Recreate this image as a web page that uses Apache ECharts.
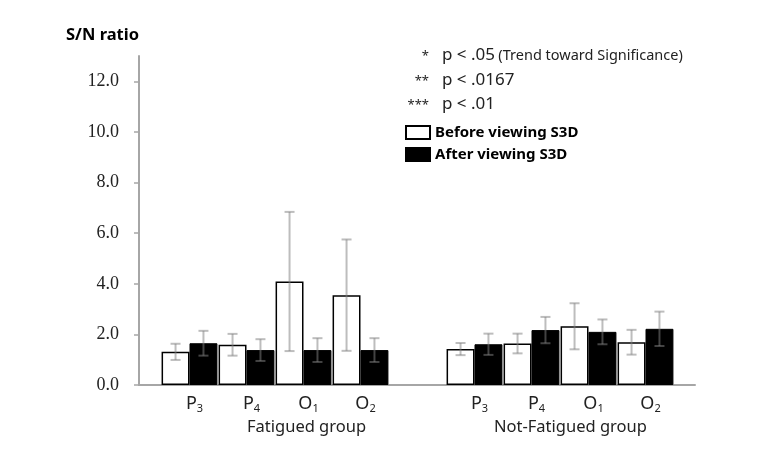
<!DOCTYPE html>
<html><head><meta charset="utf-8">
<script src="https://cdn.jsdelivr.net/npm/echarts@6/dist/echarts.min.js"></script>
<style>html,body{margin:0;padding:0;background:#fff}#c{width:784px;height:453px}</style>
</head><body><div id="c"></div><script>
// ---- data ----
const categories = ['P3', 'P4', 'O1', 'O2', '', 'P3', 'P4', 'O1', 'O2'];
const groupLabels = ['Fatigued group', 'Not-Fatigued group'];
const seriesNames = ['Before viewing S3D', 'After viewing S3D'];
const beforeMean = [1.31, 1.59, 4.09, 3.55, null, 1.42, 1.64, 2.32, 1.69];
const beforeErr  = [0.32, 0.43, 2.75, 2.20, null, 0.24, 0.39, 0.91, 0.49];
const afterMean  = [1.65, 1.38, 1.38, 1.38, null, 1.61, 2.17, 2.10, 2.22];
const afterErr   = [0.49, 0.43, 0.47, 0.47, null, 0.42, 0.52, 0.49, 0.68];
const yTicks = [0, 2, 4, 6, 8, 10, 12];
const yMax = 13;
const noteStars = ['*', '**', '***'];
const noteTexts = ['p < .05', 'p < .0167', 'p < .01'];
const noteExtra = '(Trend toward Significance)';

// ---- chart ----
const FONT = 'Noto Sans';
const chart = echarts.init(document.getElementById('c'), null, {renderer: 'canvas'});
const BAR_FRAC = 0.49;

function errData(mean, err) {
  const out = [];
  mean.forEach((m, i) => { if (m != null) out.push([i, m - err[i], m + err[i]]); });
  return out;
}
function errSeries(mean, err, side) {
  return {
    type: 'custom', xAxisIndex: 0, yAxisIndex: 0, z: 5, silent: true,
    data: errData(mean, err),
    renderItem(params, api) {
      const x = api.value(0);
      const lo = api.coord([x, api.value(1)]);
      const hi = api.coord([x, api.value(2)]);
      const bw = api.size([1, 0])[0];
      const cx = lo[0] + side * bw * BAR_FRAC / 2;
      const cap = 5;
      const st = {stroke: 'rgba(128,128,128,0.52)', lineWidth: 2};
      return {type: 'group', children: [
        {type: 'line', shape: {x1: cx, y1: lo[1], x2: cx, y2: hi[1]}, style: st},
        {type: 'line', shape: {x1: cx - cap, y1: hi[1], x2: cx + cap, y2: hi[1]}, style: st},
        {type: 'line', shape: {x1: cx - cap, y1: lo[1], x2: cx + cap, y2: lo[1]}, style: st}
      ]};
    }
  };
}

const graphics = [];
noteStars.forEach((s, i) => {
  const y = 59 + i * 24.5;
  graphics.push({type: 'text', right: 784 - 429, top: y - 9,
    style: {text: s, font: '13px ' + FONT, fill: '#222', textAlign: 'right'}});
  graphics.push({type: 'text', left: 442, top: y - 12,
    style: {text: i === 0 ? '{a|' + noteTexts[i] + '} {b|' + noteExtra + '}' : '{a|' + noteTexts[i] + '}',
      rich: {a: {font: '17px ' + FONT, fill: '#222'}, b: {font: '14.5px ' + FONT, fill: '#222'}}}});
});
graphics.push({type: 'text', left: 247, top: 419,
  style: {text: groupLabels[0], font: '16.5px ' + FONT, fill: '#222'}});
graphics.push({type: 'text', left: 494, top: 419,
  style: {text: groupLabels[1], font: '16.5px ' + FONT, fill: '#222'}});

const option = {
  animation: false,
  backgroundColor: '#fff',
  grid: [
    {left: 161, right: 110, top: 56, bottom: 68},
    {left: 139, right: 89, top: 56, bottom: 68}
  ],
  legend: {
    data: seriesNames, orient: 'vertical', left: 405, top: 125, padding: 0,
    itemWidth: 24, itemHeight: 13, itemGap: 7, icon: 'rect',
    textStyle: {fontFamily: FONT, fontWeight: 'bold', fontSize: 15, color: '#000'}
  },
  xAxis: [
    {gridIndex: 0, type: 'category', data: categories.map((c, i) => 'c' + i),
      axisLine: {show: false}, axisTick: {show: false}, splitLine: {show: false},
      axisLabel: {interval: 0, margin: 8,
        formatter: (v, i) => { const c = categories[i]; return c ? '{m|' + c[0] + '}{s|' + c.slice(1) + '}' : ''; },
        rich: {m: {fontFamily: FONT, fontSize: 18, color: '#222', padding: [0, 0, 0, 10]},
               s: {fontFamily: FONT, fontSize: 11, color: '#222', padding: [10, 0, 0, 0]}}}},
    {gridIndex: 1, type: 'value', min: 0, max: 1,
      axisLine: {show: true, lineStyle: {color: '#a6a6a6', width: 2}},
      axisTick: {show: false}, axisLabel: {show: false}, splitLine: {show: false}}
  ],
  yAxis: [
    {gridIndex: 0, type: 'value', min: 0, max: yMax, show: false},
    {gridIndex: 1, type: 'value', min: 0, max: yMax,
      name: 'S/N ratio', nameLocation: 'end', nameGap: 21,
      nameTextStyle: {fontFamily: FONT, fontWeight: 'bold', fontSize: 16.5, color: '#000', align: 'right', verticalAlign: 'middle'},
      axisLine: {show: true, lineStyle: {color: '#a6a6a6', width: 2}},
      axisTick: {show: true, customValues: yTicks, length: 5, lineStyle: {color: '#a6a6a6', width: 1.5}},
      axisLabel: {customValues: yTicks, formatter: v => v.toFixed(1), margin: 20,
        fontFamily: 'Liberation Serif', fontSize: 18, color: '#222'},
      splitLine: {show: false}}
  ],
  series: [
    {name: seriesNames[0], type: 'bar', xAxisIndex: 0, yAxisIndex: 0,
      barWidth: (BAR_FRAC * 100) + '%', barGap: '0%',
      data: beforeMean.map(v => v == null ? '-' : v),
      itemStyle: {color: '#fff', borderColor: '#000', borderWidth: 1.5}},
    {name: seriesNames[1], type: 'bar', xAxisIndex: 0, yAxisIndex: 0,
      barWidth: (BAR_FRAC * 100) + '%', barGap: '0%',
      data: afterMean.map(v => v == null ? '-' : v),
      itemStyle: {color: '#000', borderColor: '#000', borderWidth: 1}},
    errSeries(beforeMean, beforeErr, -1),
    errSeries(afterMean, afterErr, 1)
  ],
  graphic: graphics
};
chart.setOption(option);
</script></body></html>
